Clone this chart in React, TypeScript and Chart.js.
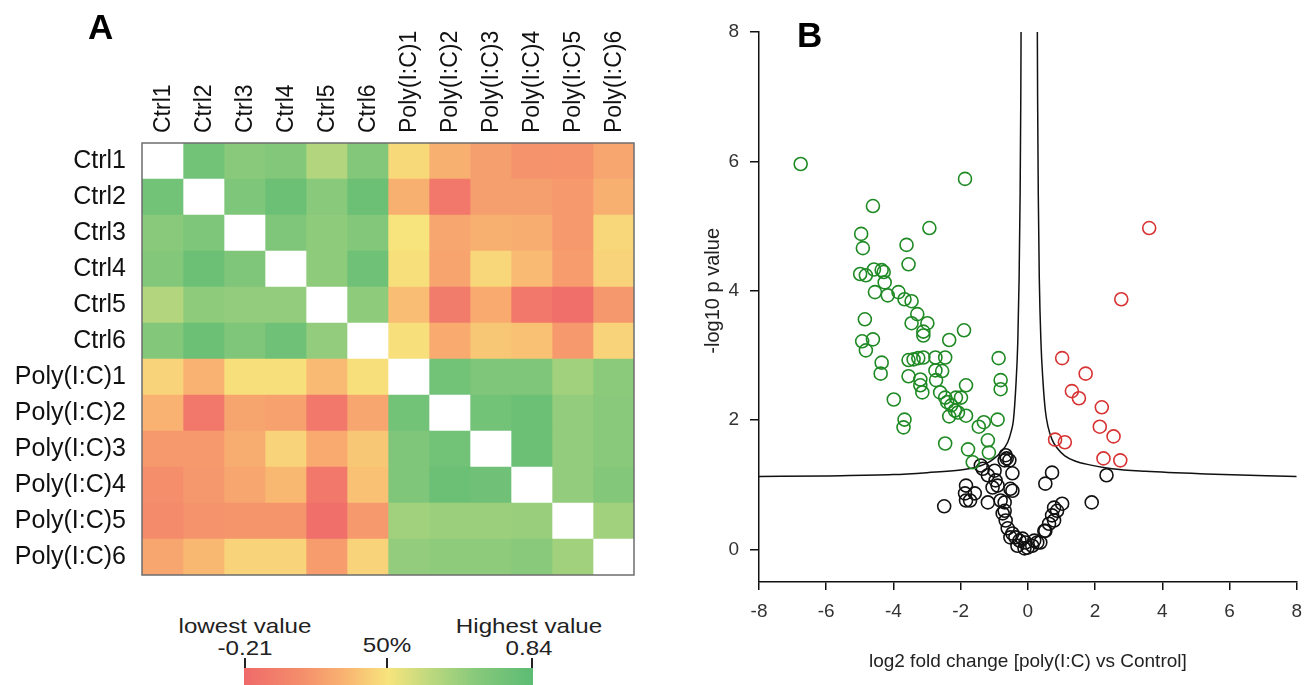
import React, { useEffect, useRef } from 'react';
import { Chart, registerables } from 'chart.js';
Chart.register(...registerables);

const FONT = '"Liberation Sans", Arial, Helvetica, sans-serif';

// ---------- Panel A: correlation heatmap ----------
const samples = ['Ctrl1', 'Ctrl2', 'Ctrl3', 'Ctrl4', 'Ctrl5', 'Ctrl6',
  'Poly(I:C)1', 'Poly(I:C)2', 'Poly(I:C)3', 'Poly(I:C)4', 'Poly(I:C)5', 'Poly(I:C)6'];

const corrCtrl1 = [null, 0.735, 0.63, 0.66, 0.50, 0.66, 0.28, 0.14, 0.07, 0.02, 0.02, 0.10];
const corrCtrl2 = [0.735, null, 0.68, 0.77, 0.63, 0.77, 0.14, -0.13, 0.07, 0.07, 0.05, 0.14];
const corrCtrl3 = [0.63, 0.68, null, 0.67, 0.61, 0.66, 0.315, 0.10, 0.14, 0.13, 0.05, 0.27];
const corrCtrl4 = [0.66, 0.77, 0.67, null, 0.61, 0.75, 0.30, 0.09, 0.27, 0.18, 0.06, 0.26];
const corrCtrl5 = [0.50, 0.61, 0.60, 0.60, null, 0.61, 0.19, -0.105, 0.115, -0.126, -0.18, 0.04];
const corrCtrl6 = [0.66, 0.77, 0.67, 0.75, 0.60, null, 0.30, 0.115, 0.22, 0.20, 0.05, 0.26];
const corrPoly1 = [0.26, 0.15, 0.30, 0.30, 0.18, 0.30, null, 0.735, 0.67, 0.67, 0.55, 0.62];
const corrPoly2 = [0.15, -0.126, 0.095, 0.08, -0.126, 0.10, 0.735, null, 0.735, 0.77, 0.60, 0.63];
const corrPoly3 = [0.05, 0.05, 0.13, 0.26, 0.115, 0.22, 0.67, 0.735, null, 0.77, 0.60, 0.63];
const corrPoly4 = [0.0, 0.04, 0.10, 0.17, -0.126, 0.20, 0.67, 0.77, 0.745, null, 0.60, 0.66];
const corrPoly5 = [-0.02, 0.02, 0.03, 0.03, -0.18, 0.05, 0.55, 0.57, 0.57, 0.58, null, 0.55];
const corrPoly6 = [0.10, 0.17, 0.26, 0.26, 0.06, 0.26, 0.60, 0.61, 0.61, 0.63, 0.55, null];
const corrRows = [corrCtrl1, corrCtrl2, corrCtrl3, corrCtrl4, corrCtrl5, corrCtrl6,
  corrPoly1, corrPoly2, corrPoly3, corrPoly4, corrPoly5, corrPoly6];

const scaleLowest = -0.21;
const scaleHighest = 0.84;
const legendTickLabels = ['-0.21', '50%', '0.84'];

// ---------- Panel B: volcano plot ----------
const upGenes: number[][] = [
  [3.61, 4.97], [2.78, 3.87], [1.02, 2.96], [1.72, 2.72], [1.31, 2.45], [1.52, 2.34],
  [2.20, 2.20], [2.14, 1.90], [2.55, 1.75], [0.81, 1.70], [1.10, 1.66], [2.25, 1.41], [2.75, 1.38],
];
const downGenes: number[][] = [
  [-6.76, 5.96], [-1.87, 5.73], [-4.61, 5.31], [-2.93, 4.97], [-4.96, 4.88], [-4.91, 4.66],
  [-3.61, 4.71], [-3.55, 4.41], [-4.99, 4.26], [-4.82, 4.24], [-4.58, 4.33], [-4.35, 4.32],
  [-4.29, 4.29], [-4.26, 4.13], [-4.55, 3.98], [-4.17, 3.93], [-3.85, 3.98], [-3.67, 3.87],
  [-3.46, 3.84], [-3.29, 3.64], [-3.46, 3.50], [-2.99, 3.50], [-3.11, 3.37], [-3.11, 3.31],
  [-1.90, 3.39], [-2.34, 3.24], [-4.85, 3.56], [-4.93, 3.22], [-4.61, 3.25], [-4.82, 3.08],
  [-4.35, 2.89], [-4.38, 2.72], [-3.55, 2.93], [-3.40, 2.94], [-3.26, 2.96], [-3.11, 2.97],
  [-2.75, 2.97], [-2.46, 2.97], [-0.87, 2.96], [-2.75, 2.77], [-2.55, 2.76], [-3.55, 2.68],
  [-3.20, 2.63], [-3.20, 2.54], [-3.14, 2.43], [-2.73, 2.62], [-0.81, 2.62], [-0.81, 2.48],
  [-1.84, 2.54], [-2.61, 2.43], [-2.46, 2.35], [-2.40, 2.28], [-2.28, 2.23], [-2.14, 2.35],
  [-1.99, 2.35], [-2.17, 2.15], [-2.34, 2.06], [-2.08, 2.12], [-1.84, 2.07], [-3.99, 2.32],
  [-3.67, 2.01], [-3.70, 1.89], [-1.46, 1.90], [-1.31, 1.97], [-0.90, 2.01], [-2.46, 1.64],
  [-1.78, 1.55], [-1.19, 1.69], [-1.16, 1.50], [-1.64, 1.35],
];
const unchangedGenes: number[][] = [
  [-0.66, 1.46], [-0.63, 1.41], [-0.55, 1.38], [-0.69, 1.38], [-1.40, 1.30], [-0.46, 1.18],
  [-1.19, 1.15], [-0.96, 1.07], [-1.05, 0.96], [-0.90, 0.99], [-1.84, 0.99], [-1.87, 0.87],
  [-1.58, 0.87], [-1.72, 0.76], [-1.84, 0.76], [-2.49, 0.67], [-1.19, 0.73], [-0.69, 0.73],
  [-0.46, 0.91], [-0.52, 0.94], [-0.81, 0.76], [-0.75, 0.56], [-0.69, 0.60], [-0.66, 0.45],
  [-0.60, 0.33], [-0.46, 0.25], [-0.52, 0.19], [-0.37, 0.19], [-0.25, 0.14], [-0.16, 0.17],
  [-0.07, 0.11], [-0.31, 0.06], [-0.10, 0.02], [-0.01, 0.03], [0.13, 0.06], [0.19, 0.14],
  [0.28, 0.11], [0.37, 0.11], [0.49, 0.29], [0.52, 0.29], [0.63, 0.40], [0.72, 0.53],
  [0.78, 0.45], [0.87, 0.60], [0.78, 0.65], [1.02, 0.71], [0.72, 1.19], [0.52, 1.02],
  [1.90, 0.73], [2.34, 1.15], [-1.34, 1.25], [-0.99, 1.22],
];
const leftThreshold: number[][] = [
  [-8, 1.13], [-6, 1.14], [-4, 1.16], [-3, 1.19], [-2, 1.23], [-1.5, 1.28], [-1.2, 1.34],
  [-1.0, 1.41], [-0.8, 1.51], [-0.6, 1.66], [-0.5, 1.82], [-0.43, 2.0], [-0.36, 2.5],
  [-0.3, 3.2], [-0.26, 4.2], [-0.23, 5.5], [-0.21, 7.0], [-0.2, 8.3],
];
const rightThreshold: number[][] = [
  [0.28, 8.3], [0.29, 7.0], [0.31, 5.5], [0.34, 4.2], [0.39, 3.2], [0.45, 2.6], [0.52, 2.15],
  [0.6, 1.9], [0.72, 1.7], [0.87, 1.57], [1.1, 1.45], [1.4, 1.37], [1.84, 1.31], [2.5, 1.25],
  [3.5, 1.21], [5.3, 1.17], [8, 1.13],
];
const volcanoXTicks = [-8, -6, -4, -2, 0, 2, 4, 6, 8];
const volcanoYTicks = [0, 2, 4, 6, 8];

// ---------- colour scale ----------
const stops: [number, number[]][] = [
  [0, [239, 106, 106]], [0.2, [244, 142, 107]], [0.35, [249, 180, 113]], [0.5, [247, 228, 125]],
  [0.65, [187, 216, 126]], [0.8, [136, 201, 123]], [1, [92, 187, 116]],
];
function colorFor(v: number | null): string {
  if (v === null || v === undefined) return '#ffffff';
  let t = (v - scaleLowest) / (scaleHighest - scaleLowest);
  t = Math.max(0, Math.min(1, t));
  for (let i = 0; i < stops.length - 1; i++) {
    const [t0, c0] = stops[i];
    const [t1, c1] = stops[i + 1];
    if (t <= t1) {
      const f = (t - t0) / (t1 - t0);
      const c = c0.map((a, k) => Math.round(a + (c1[k] - a) * f));
      return `rgb(${c[0]},${c[1]},${c[2]})`;
    }
  }
  const c = stops[stops.length - 1][1];
  return `rgb(${c[0]},${c[1]},${c[2]})`;
}
const gradientCss = 'linear-gradient(to right, ' +
  stops.map(([t, c]) => `rgb(${c[0]},${c[1]},${c[2]}) ${t * 100}%`).join(', ') + ')';

const framePlugin = {
  id: 'frame',
  afterDatasetsDraw(chart: any) {
    const { ctx, chartArea: a } = chart;
    ctx.save();
    ctx.strokeStyle = '#6e6e6e';
    ctx.lineWidth = 1.5;
    ctx.strokeRect(a.left, a.top, a.right - a.left, a.bottom - a.top);
    ctx.restore();
  },
};

const yTitlePlugin = {
  id: 'ytitle',
  afterDraw(chart: any) {
    const { ctx } = chart;
    const y = chart.scales.y.getPixelForValue(4);
    ctx.save();
    ctx.translate(53, y);
    ctx.rotate(-Math.PI / 2);
    ctx.font = `20px ${FONT}`;
    ctx.fillStyle = '#222';
    ctx.textAlign = 'center';
    ctx.textBaseline = 'middle';
    ctx.fillText('-log10 p value', 0, 0);
    ctx.restore();
  },
};

export default function App() {
  const heatRef = useRef<HTMLCanvasElement>(null);
  const volRef = useRef<HTMLCanvasElement>(null);

  useEffect(() => {
    const heat = new Chart(heatRef.current as HTMLCanvasElement, {
      type: 'bar',
      data: {
        labels: samples,
        datasets: samples.map((_, j) => ({
          label: samples[j],
          data: samples.map(() => 1),
          backgroundColor: corrRows.map((row) => colorFor(row[j])),
          borderWidth: 0,
          barPercentage: 1,
          categoryPercentage: 1,
        })),
      },
      options: {
        indexAxis: 'y',
        responsive: false,
        animation: false,
        events: [],
        layout: { padding: { left: 0, right: 6, top: 0, bottom: 5 } },
        plugins: { legend: { display: false }, tooltip: { enabled: false } },
        scales: {
          x: {
            type: 'linear',
            position: 'top',
            stacked: true,
            min: 0,
            max: samples.length,
            grid: { display: false, drawTicks: false },
            border: { display: false },
            afterBuildTicks: (s: any) => { s.ticks = samples.map((_, i) => ({ value: i + 0.5 })); },
            afterFit: (s: any) => { s.height = 143; },
            ticks: {
              autoSkip: false,
              minRotation: 90,
              maxRotation: 90,
              padding: 10,
              labelOffset: 29,
              color: '#111',
              font: { family: FONT, size: 23 },
              callback: (v: any) => samples[Math.floor(Number(v))],
            },
          },
          y: {
            type: 'category',
            stacked: true,
            grid: { display: false, drawTicks: false },
            border: { display: false },
            afterFit: (s: any) => { s.width = 142; },
            ticks: { padding: 16, color: '#111', font: { family: FONT, size: 25 } },
          },
        },
      },
      plugins: [framePlugin],
    } as any);

    const pointDs = (data: number[][], color: string) => ({
      data: data.map(([x, y]) => ({ x, y })),
      showLine: false,
      pointRadius: 6.5,
      pointBorderWidth: 1.6,
      pointBorderColor: color,
      pointBackgroundColor: 'rgba(0,0,0,0)',
    });
    const lineDs = (data: number[][]) => ({
      data: data.map(([x, y]) => ({ x, y })),
      showLine: true,
      pointRadius: 0,
      borderColor: '#111',
      borderWidth: 1.5,
      cubicInterpolationMode: 'monotone',
      fill: false,
    });

    const vol = new Chart(volRef.current as HTMLCanvasElement, {
      type: 'scatter',
      data: {
        datasets: [
          pointDs(upGenes, '#d83232'),
          pointDs(downGenes, '#1f8a24'),
          pointDs(unchangedGenes, '#111111'),
          lineDs(leftThreshold),
          lineDs(rightThreshold),
        ],
      },
      options: {
        responsive: false,
        animation: false,
        events: [],
        layout: { padding: { left: 0, right: 10, top: 32, bottom: 0 } },
        plugins: { legend: { display: false }, tooltip: { enabled: false } },
        scales: {
          x: {
            type: 'linear',
            min: -8,
            max: 8,
            afterBuildTicks: (s: any) => { s.ticks = volcanoXTicks.map((v) => ({ value: v })); },
            afterFit: (s: any) => { s.height = 103; },
            grid: { display: true, drawOnChartArea: false, drawTicks: true, tickLength: 8, color: '#111', lineWidth: 1.5 },
            border: { display: true, color: '#111', width: 1.5 },
            ticks: { padding: 10, color: '#333', font: { family: FONT, size: 19 } },
            title: {
              display: true,
              text: 'log2 fold change [poly(I:C) vs Control]',
              color: '#222',
              font: { family: FONT, size: 19 },
              padding: { top: 0, bottom: 12 },
            },
          },
          y: {
            type: 'linear',
            min: -0.5,
            max: 8,
            afterBuildTicks: (s: any) => { s.ticks = volcanoYTicks.map((v) => ({ value: v })); },
            afterFit: (s: any) => { s.width = 99; },
            grid: { display: true, drawOnChartArea: false, drawTicks: true, tickLength: 9, color: '#111', lineWidth: 1.5 },
            border: { display: true, color: '#111', width: 1.5 },
            ticks: { padding: 11, color: '#333', font: { family: FONT, size: 19 } },
          },
        },
      },
      plugins: [yTitlePlugin],
    } as any);

    return () => { heat.destroy(); vol.destroy(); };
  }, []);

  const txt = (text: string, cx: number, top: number, extra: any = {}) => (
    <div style={{
      position: 'absolute', left: cx, top, transform: 'translateX(-50%) scaleX(1.15)',
      fontFamily: FONT, fontSize: 21, lineHeight: '21px', color: '#222', whiteSpace: 'nowrap', ...extra,
    }}>{text}</div>
  );
  const tick = (x: number) => (
    <div style={{ position: 'absolute', left: x - 0.75, top: 658, width: 1.5, height: 10, background: '#222' }} />
  );

  return (
    <div style={{ position: 'fixed', left: 0, top: 0, width: 1312, height: 685, background: '#fff', overflow: 'hidden' }}>
      <canvas ref={heatRef} width={640} height={606} style={{ position: 'absolute', left: 0, top: 0 }} />
      <canvas ref={volRef} width={652} height={685} style={{ position: 'absolute', left: 660, top: 0 }} />
      <div style={{ position: 'absolute', left: 88, top: 9, fontFamily: FONT, fontWeight: 'bold', fontSize: 35, lineHeight: '35px', color: '#000' }}>A</div>
      <div style={{ position: 'absolute', left: 797, top: 17, fontFamily: FONT, fontWeight: 'bold', fontSize: 35, lineHeight: '35px', color: '#000' }}>B</div>
      {txt('lowest value', 245, 615)}
      {txt(legendTickLabels[0], 245, 637)}
      {txt(legendTickLabels[1], 387, 634)}
      {txt('Highest value', 529, 615)}
      {txt(legendTickLabels[2], 529, 637)}
      {tick(245)}
      {tick(387)}
      {tick(532)}
      <div style={{ position: 'absolute', left: 244, top: 668, width: 289, height: 20, background: gradientCss }} />
    </div>
  );
}
